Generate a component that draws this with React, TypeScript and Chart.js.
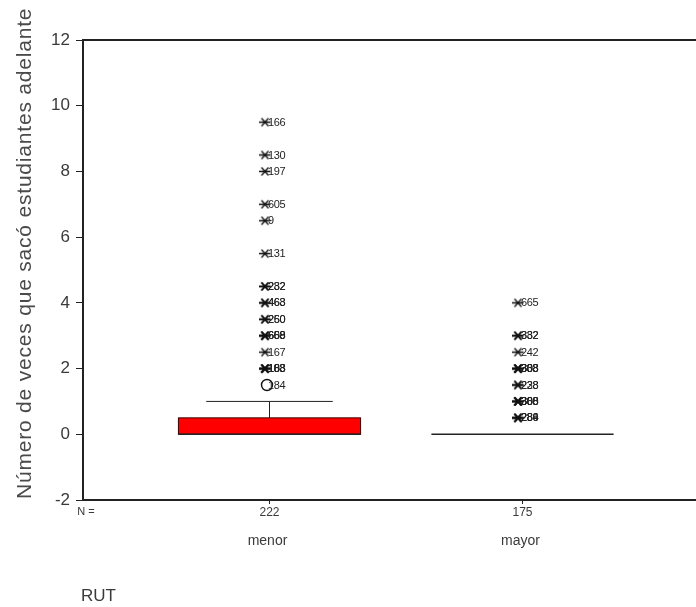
import { useEffect, useRef } from 'react';
import { Chart, registerables } from 'chart.js';

Chart.register(...registerables);

// Groups of the RUT variable and their sample sizes
const groups = ['menor', 'mayor'];
const groupCounts = [222, 175];

// Box-plot summary per group
const boxLower = [0, 0];
const boxUpper = [0.5, 0];
const medians = [0, 0];
const whiskerLow = [0, 0];
const whiskerHigh = [1, 0];

// Extreme cases (asterisks) and outliers (circles) with their case numbers
const menorExtremeValues = [9.5, 8.5, 8, 7, 6.5, 5.5, 4.5, 4.5, 4, 4, 3.5, 3.5, 3, 3, 3, 2.5, 2, 2, 2, 2];
const menorExtremeCases = ['166', '130', '197', '605', '9', '131', '282', '232', '463', '468', '260', '250', '608', '669', '658', '167', '188', '163', '108', '183'];
const menorOutlierValues = [1.5];
const menorOutlierCases = ['184'];
const mayorExtremeValues = [4, 3, 3, 2.5, 2, 2, 2, 2, 1.5, 1.5, 1, 1, 1, 1, 0.5, 0.5, 0.5];
const mayorExtremeCases = ['665', '332', '382', '242', '388', '303', '308', '338', '238', '228', '308', '368', '388', '300', '286', '284', '289'];

const yMin = -2;
const yMax = 12;
const yStep = 2;
const yTitle = 'Número de veces que sacó estudiantes adelante';
const xTitle = 'RUT';
const countPrefix = 'N =';

const FONT = "'Liberation Sans', Arial, sans-serif";
const INK = '#222';
const TEXT = '#3a3a3a';
const BOX_WIDTH = 0.72; // in category units
const CAP_WIDTH = 0.5;
const MARK_SHIFT = 4; // symbols sit a little left of the category centre

// Asterisk symbol drawn left of the image centre so that it sits beside its label
function makeAsterisk(): HTMLCanvasElement {
  const c = document.createElement('canvas');
  c.width = 11 + MARK_SHIFT * 2;
  c.height = 11;
  const g = c.getContext('2d')!;
  g.strokeStyle = '#111';
  g.lineWidth = 1.3;
  g.beginPath();
  g.moveTo(0, 5.5);
  g.lineTo(11, 5.5);
  g.moveTo(2, 1.5);
  g.lineTo(9, 9.5);
  g.moveTo(9, 1.5);
  g.lineTo(2, 9.5);
  g.stroke();
  return c;
}

function makeRing(): HTMLCanvasElement {
  const c = document.createElement('canvas');
  c.width = 18;
  c.height = 14;
  const g = c.getContext('2d')!;
  g.strokeStyle = '#111';
  g.lineWidth = 1.4;
  g.beginPath();
  g.arc(7, 7, 5.5, 0, Math.PI * 2);
  g.stroke();
  return c;
}

const caseLabelsByDataset = [menorExtremeCases, menorOutlierCases, mayorExtremeCases];

const boxPlotPlugin = {
  id: 'boxPlot',
  beforeDatasetsDraw(chart: any) {
    const { ctx, scales } = chart;
    const xs = scales.x;
    const ys = scales.y;
    const half = (xs.getPixelForValue(1 + BOX_WIDTH / 2) - xs.getPixelForValue(1));
    const capHalf = (xs.getPixelForValue(1 + CAP_WIDTH / 2) - xs.getPixelForValue(1));
    ctx.save();
    groups.forEach((_, i) => {
      const xc = Math.round(xs.getPixelForValue(i + 1)) + 0.5;
      const yLo = ys.getPixelForValue(boxLower[i]);
      const yHi = ys.getPixelForValue(boxUpper[i]);
      const yWl = ys.getPixelForValue(whiskerLow[i]);
      const yWh = ys.getPixelForValue(whiskerHigh[i]);
      const yMed = ys.getPixelForValue(medians[i]);
      ctx.strokeStyle = INK;
      ctx.lineWidth = 1;
      // whiskers
      if (whiskerHigh[i] > boxUpper[i]) {
        ctx.beginPath();
        ctx.moveTo(xc, yHi);
        ctx.lineTo(xc, yWh);
        ctx.moveTo(xc - capHalf, yWh);
        ctx.lineTo(xc + capHalf, yWh);
        ctx.stroke();
      }
      if (whiskerLow[i] < boxLower[i]) {
        ctx.beginPath();
        ctx.moveTo(xc, yLo);
        ctx.lineTo(xc, yWl);
        ctx.moveTo(xc - capHalf, yWl);
        ctx.lineTo(xc + capHalf, yWl);
        ctx.stroke();
      }
      // box
      if (boxUpper[i] > boxLower[i]) {
        ctx.fillStyle = '#ff0000';
        ctx.fillRect(xc - half, yHi, half * 2, yLo - yHi);
        ctx.strokeStyle = '#3a0000';
        ctx.strokeRect(xc - half, yHi, half * 2, yLo - yHi);
      }
      // median
      ctx.strokeStyle = INK;
      ctx.lineWidth = 1.5;
      ctx.beginPath();
      ctx.moveTo(xc - half, yMed);
      ctx.lineTo(xc + half, yMed);
      ctx.stroke();
    });
    ctx.restore();
  },
  afterDatasetsDraw(chart: any) {
    const { ctx } = chart;
    ctx.save();
    ctx.fillStyle = INK;
    ctx.font = `11px ${FONT}`;
    ctx.textAlign = 'left';
    ctx.textBaseline = 'middle';
    (ctx as any).letterSpacing = '-0.4px';
    caseLabelsByDataset.forEach((labels, d) => {
      const meta = chart.getDatasetMeta(d);
      meta.data.forEach((pt: any, i: number) => {
        ctx.fillText(labels[i], pt.x - 1, pt.y + 0.5);
      });
    });
    ctx.restore();
  },
  afterDraw(chart: any) {
    const { ctx, chartArea, scales } = chart;
    const xs = scales.x;
    ctx.save();
    ctx.strokeStyle = INK;
    ctx.lineWidth = 2;
    ctx.beginPath();
    ctx.moveTo(chartArea.left, chartArea.top);
    ctx.lineTo(chartArea.right, chartArea.top);
    ctx.moveTo(chartArea.left - 1, chartArea.bottom);
    ctx.lineTo(chartArea.right, chartArea.bottom);
    ctx.stroke();

    // category ticks and labels
    ctx.lineWidth = 1;
    ctx.fillStyle = TEXT;
    ctx.textAlign = 'center';
    ctx.textBaseline = 'middle';
    groups.forEach((g, i) => {
      const xc = Math.round(xs.getPixelForValue(i + 1)) + 0.5;
      ctx.beginPath();
      ctx.moveTo(xc, chartArea.bottom);
      ctx.lineTo(xc, chartArea.bottom + 4);
      ctx.stroke();
      ctx.font = `12px ${FONT}`;
      ctx.fillText(String(groupCounts[i]), xc, chartArea.bottom + 13);
      ctx.font = `14px ${FONT}`;
      ctx.fillText(g, xc - 2, chartArea.bottom + 41);
    });
    ctx.font = `11px ${FONT}`;
    ctx.fillText(countPrefix, 86, chartArea.bottom + 12);

    // axis titles
    ctx.font = `17px ${FONT}`;
    ctx.textAlign = 'left';
    ctx.fillText(xTitle, 81, 596);

    ctx.translate(31, 499);
    ctx.rotate(-Math.PI / 2);
    ctx.font = `21px ${FONT}`;
    (ctx as any).letterSpacing = '0.8px';
    ctx.textBaseline = 'alphabetic';
    ctx.fillStyle = '#4a4a4a';
    ctx.fillText(yTitle, 0, 0);
    ctx.restore();
  },
};

export default function App() {
  const canvasRef = useRef<HTMLCanvasElement | null>(null);

  useEffect(() => {
    const canvas = canvasRef.current;
    if (!canvas) return;
    const asterisk = makeAsterisk();
    const ring = makeRing();
    const chart = new Chart(canvas, {
      type: 'scatter',
      data: {
        datasets: [
          {
            label: 'menor extremos',
            data: menorExtremeValues.map((v) => ({ x: 1, y: v })),
            pointStyle: asterisk as any,
            pointRadius: 5,
          },
          {
            label: 'menor atípicos',
            data: menorOutlierValues.map((v) => ({ x: 1, y: v })),
            pointStyle: ring as any,
            pointRadius: 5.5,
          },
          {
            label: 'mayor extremos',
            data: mayorExtremeValues.map((v) => ({ x: 2, y: v })),
            pointStyle: asterisk as any,
            pointRadius: 5,
          },
        ],
      },
      options: {
        animation: false,
        responsive: false,
        events: [],
        layout: { autoPadding: false, padding: { top: 40, bottom: 107, left: 0, right: 0 } },
        plugins: { legend: { display: false }, tooltip: { enabled: false } },
        scales: {
          x: {
            type: 'linear',
            min: 0.265,
            max: 2.688,
            display: false,
          },
          y: {
            type: 'linear',
            min: yMin,
            max: yMax,
            afterFit(scale: any) {
              scale.width = 83;
            },
            ticks: {
              stepSize: yStep,
              color: TEXT,
              font: { family: FONT, size: 17 },
              padding: 6,
            },
            grid: {
              drawOnChartArea: false,
              drawTicks: true,
              tickLength: 7,
              color: INK,
            },
            border: { display: true, color: INK, width: 2 },
          },
        },
      },
      plugins: [boxPlotPlugin],
    });
    return () => chart.destroy();
  }, []);

  return (
    <div style={{ position: 'absolute', left: 0, top: 0, width: 696, height: 607, background: '#fff' }}>
      <canvas ref={canvasRef} width={696} height={607} style={{ display: 'block' }} />
    </div>
  );
}
